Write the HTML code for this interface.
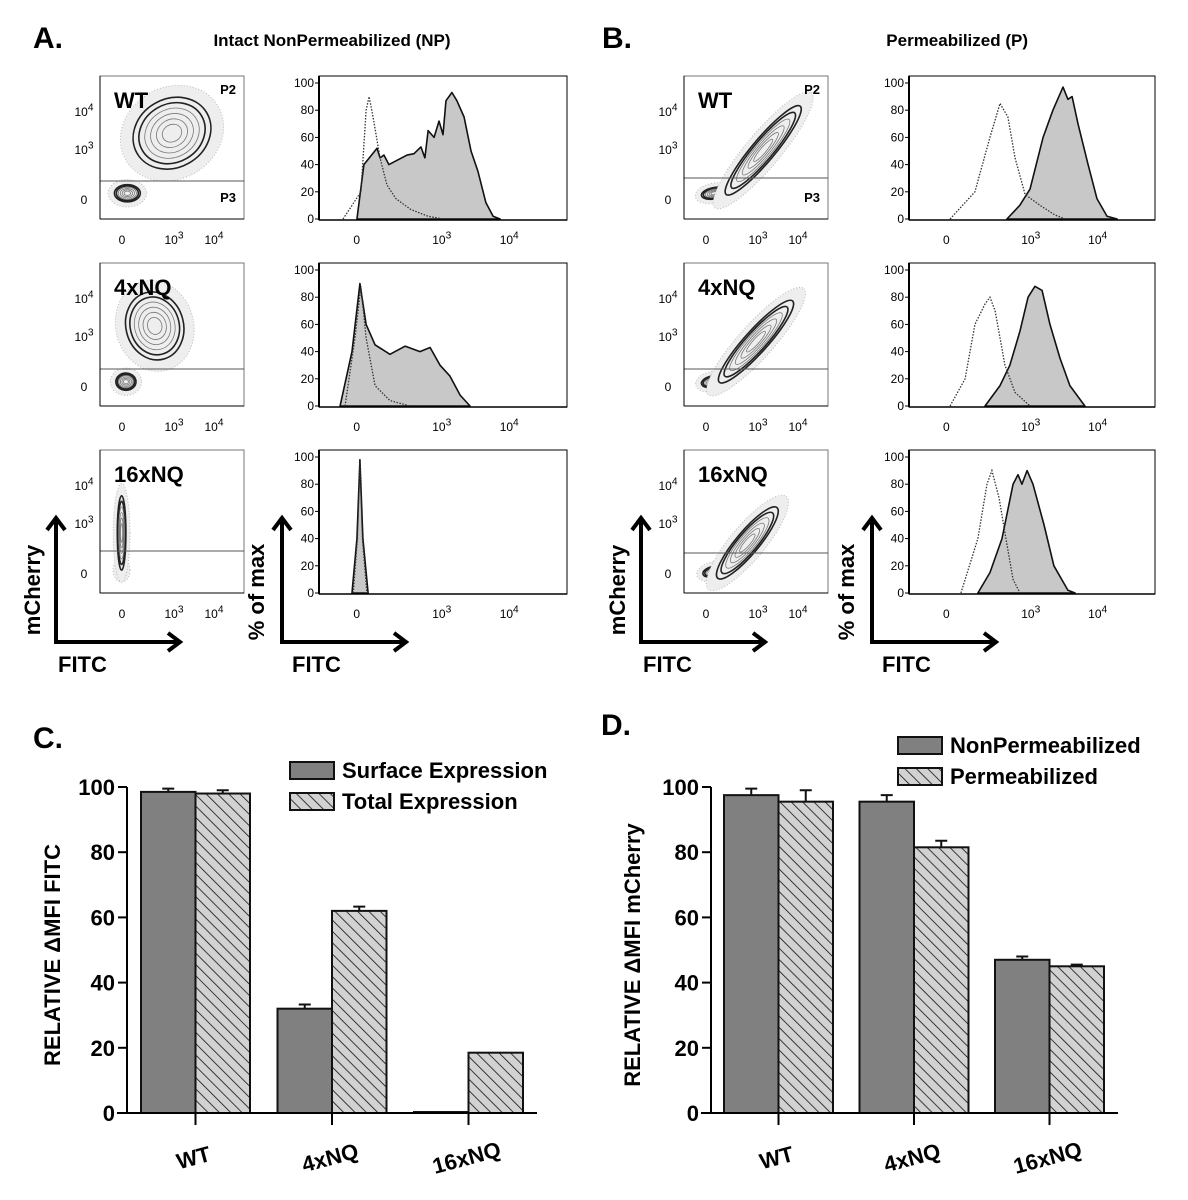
<!DOCTYPE html>
<html><head><meta charset="utf-8">
<style>
html,body{margin:0;padding:0;background:#fff;}
svg{display:block;font-family:"Liberation Sans",Arial,sans-serif;}
</style></head>
<body>
<svg id="fig" width="1188" height="1200" viewBox="0 0 1188 1200" xmlns="http://www.w3.org/2000/svg">
<defs>
<pattern id="hatch" patternUnits="userSpaceOnUse" width="8" height="8" patternTransform="rotate(-45)">
<rect width="8" height="8" fill="#d2d2d2"/>
<line x1="0" y1="0" x2="0" y2="8" stroke="#111" stroke-width="1.6"/>
</pattern>
</defs>
</svg>
<script>
// ---------- bar chart data ----------
const catC = ['WT','4xNQ','16xNQ'];
const surfaceC = [98.5, 32, 0.3];
const surfaceErrC = [1, 1.3, 0];
const totalC = [98, 62, 18.5];
const totalErrC = [1, 1.3, 0];
const catD = ['WT','4xNQ','16xNQ'];
const nonPermD = [97.5, 95.5, 47];
const nonPermErrD = [2, 2, 1];
const permD = [95.5, 81.5, 45];
const permErrD = [3.5, 2, 0.5];
const barTicks = [0,20,40,60,80,100];
const histTicks = [0,20,40,60,80,100];

// ---------- histogram data (x = % of plot width, y = % of max) ----------
const hA1sX = [15.3,18.1,23.4,24.6,26.2,28.2,35.5,38.3,41.1,42.7,44,46.4,48.4,50,51.2,53.6,55.6,58.5,61.3,64.1,67.3,70.2,73];
const hA1sY = [0,40,52,45,47,40,47,48,53,45,65,60,72,62,87,93,87,75,50,35,12,2,0];
const hA1dX = [9.7,16.9,19,20.2,21.8,24.6,27.4,31,37,44,50];
const hA1dY = [0,20,80,90,75,45,25,15,7,2,0];
const hA2sX = [8.5,13.3,16.5,19,22.6,28.6,34.7,40.7,44.8,48.8,52.8,56.9,60.9];
const hA2sY = [0,40,90,60,45,38,44,40,43,30,22,8,0];
const hA2dX = [10.5,14.5,16.9,19,22.6,28.6,36.7];
const hA2dY = [0,50,88,50,15,4,0];
const hA3sX = [13.3,15.3,16.5,17.7,19.8];
const hA3sY = [0,40,98,40,0];
const hA3dX = [13.8,15.5,16.5,17.5,19.3];
const hA3dY = [0,40,96,40,0];
const hB1sX = [39.8,45,49.2,54.5,58.5,62.6,64.6,66.3,68.7,72.8,76.4,80.5,84.6];
const hB1sY = [0,10,22,60,80,97,88,90,70,40,15,2,0];
const hB1dX = [16.7,26.8,32.9,37,40.2,43.1,47.2,53.3,59.3,63.4];
const hB1dY = [0,20,60,85,75,45,18,10,3,0];
const hB2sX = [30.9,37,41,45.1,48.4,51.2,54.1,57.3,61.4,65.4,71.5];
const hB2sY = [0,15,30,55,80,88,85,60,35,15,0];
const hB2dX = [16.7,22.8,26.8,30.9,32.9,35,39,43.1,49.2];
const hB2dY = [0,20,60,75,80,70,30,10,0];
const hB3sX = [28,32.9,37.8,42.3,44.3,45.9,48,50.4,54.9,58.9,64.6,67.5];
const hB3sY = [0,15,40,80,87,80,90,80,50,20,2,0];
const hB3dX = [21.1,28,31.7,33.7,36.6,39.4,42.3,45.1];
const hB3dY = [0,40,80,90,70,40,10,0];

// ---------- contour blobs [cx%, cy%, rx%, ry%, rotation] ----------
const cA1 = [[19,82,9,6,0],[50,40,28,24,-30]];
const cA2 = [[18,83,7,6,0],[38,44,20,24,-15]];
const cA3 = [[15,84,3,5,0],[15,58,3,26,0]];
const cB1 = [[21,82,9,4,-10],[55,52,40,8,-50]];
const cB2 = [[20,83,8,4,-10],[50,55,38,8,-48]];
const cB3 = [[22,85,9,4,-10],[44,65,32,8,-50]];

const NS = 'http://www.w3.org/2000/svg';
const svg = document.getElementById('fig');
function el(tag, attrs, parent){
  const e = document.createElementNS(NS, tag);
  for (const k in attrs) e.setAttribute(k, attrs[k]);
  (parent||svg).appendChild(e);
  return e;
}
function txt(str, x, y, size, weight, anchor, parent){
  const t = el('text', {x:x, y:y, 'font-size':size, 'font-weight':weight||'normal', 'text-anchor':anchor||'start', fill:'#000'}, parent);
  t.textContent = str;
  return t;
}
function sup(base, exp, x, y, size, parent){
  const t = el('text', {x:x, y:y, 'font-size':size, 'text-anchor':'middle', fill:'#000'}, parent);
  t.textContent = base;
  const s = document.createElementNS(NS,'tspan');
  s.setAttribute('dy', -size*0.45);
  s.setAttribute('font-size', size*0.85);
  s.textContent = exp;
  t.appendChild(s);
  return t;
}

// ---------- titles ----------
let t;
t = txt('A.', 33, 48, 30, 'bold');  
t = txt('Intact NonPermeabilized (NP)', 332, 46, 17, 'bold', 'middle');  
t = txt('B.', 602, 48, 30, 'bold');  
t = txt('Permeabilized (P)', 1028, 46, 17, 'bold', 'end');  
t = txt('C.', 33, 748, 30, 'bold');  
t = txt('D.', 601, 735, 30, 'bold');  

// ---------- contour plots ----------
const rowTops = [76, 263, 450];
const rowNames = ['WT','4xNQ','16xNQ'];
const contourSets = [[cA1,cA2,cA3],[cB1,cB2,cB3]];
const contourLeft = [100, 684];
const gates = [[105,106,101],[102,106,103]];
function contourPlot(left, top, blobs, label, gateY, showP, name){
  const W=144, H=143;
  const g = el('g', {});
  
  
  el('rect', {x:left, y:top, width:W, height:H, fill:'#fff', stroke:'#777', 'stroke-width':1}, g);
  blobs.forEach(b => {
    const cx = left + b[0]/100*W, cy = top + b[1]/100*H, rx = b[2]/100*W, ry = b[3]/100*H;
    const bg = el('g', {transform:`rotate(${b[4]} ${cx} ${cy})`}, g);
    
    
    el('ellipse', {cx:cx, cy:cy, rx:rx*1.25+3, ry:ry*1.25+3, fill:'#eee', stroke:'#bbb', 'stroke-width':1, 'stroke-dasharray':'1 2'}, bg);
    for (let i=0;i<6;i++){
      const f = 1 - i*0.15;
      el('ellipse', {cx:cx, cy:cy, rx:Math.max(rx*f,1), ry:Math.max(ry*f,1), fill:'none', stroke: i<2 ? '#222' : '#777', 'stroke-width': i<2 ? 1.6 : 0.8}, bg);
    }
  });
  const gl = el('line', {x1:left, y1:top+gateY, x2:left+W, y2:top+gateY, stroke:'#555', 'stroke-width':1}, g);
  
  
  let lt = txt(label, left+14, top+32, 22, 'bold', 'start', g);
  
  
  if (showP){
    let p2 = txt('P2', left+W-8, top+18, 13, 'bold', 'end', g);
    
    
    let p3 = txt('P3', left+W-8, top+126, 13, 'bold', 'end', g);
    
    
  }
  sup('10','4', left-16, top+40, 12, g);
  sup('10','3', left-16, top+78, 12, g);
  txt('0', left-16, top+128, 12, 'normal', 'middle', g);
  txt('0', left+22, top+168, 12, 'normal', 'middle', g);
  sup('10','3', left+74, top+168, 12, g);
  sup('10','4', left+114, top+168, 12, g);
  el('line', {x1:left, y1:top+H, x2:left+W, y2:top+H, stroke:'#000', 'stroke-width':1}, g);
  el('line', {x1:left, y1:top, x2:left, y2:top+H, stroke:'#000', 'stroke-width':1}, g);
}
for (let p=0;p<2;p++) for (let r=0;r<3;r++){
  contourPlot(contourLeft[p], rowTops[r], contourSets[p][r], rowNames[r], gates[p][r], r===0, (p===0?'np-':'p-')+rowNames[r].toLowerCase()+'-contour-plot');
}

// ---------- histograms ----------
const histLeft = [319, 909];
const histW = [248, 246];
const histSets = [
  [[hA1sX,hA1sY,hA1dX,hA1dY],[hA2sX,hA2sY,hA2dX,hA2dY],[hA3sX,hA3sY,hA3dX,hA3dY]],
  [[hB1sX,hB1sY,hB1dX,hB1dY],[hB2sX,hB2sY,hB2dX,hB2dY],[hB3sX,hB3sY,hB3dX,hB3dY]]
];
function histPlot(left, top, W, d, name){
  const H = 144;
  const xS = v => left + v/100*W;
  const yS = v => top + H - 1 - v/100*136;
  const g = el('g', {});
  
  
  el('rect', {x:left, y:top, width:W, height:H, fill:'#fff', stroke:'#000', 'stroke-width':1}, g);
  let ds = 'M'+xS(d[0][0])+','+yS(0);
  d[0].forEach((x,i)=>{ ds += ' L'+xS(x)+','+yS(d[1][i]); });
  ds += ' Z';
  const fill = el('path', {d:ds, fill:'#c8c8c8', stroke:'#111', 'stroke-width':1.6, 'stroke-linejoin':'round'}, g);
  
  
  let dd = '';
  d[2].forEach((x,i)=>{ dd += (i?' L':'M')+xS(x)+','+yS(d[3][i]); });
  const dot = el('path', {d:dd, fill:'none', stroke:'#333', 'stroke-width':1.3, 'stroke-dasharray':'1.5 1.5'}, g);
  
  
  el('line', {x1:left, y1:top, x2:left, y2:top+H, stroke:'#000', 'stroke-width':2}, g);
  el('line', {x1:left, y1:top+H, x2:left+W, y2:top+H, stroke:'#000', 'stroke-width':1.5}, g);
  histTicks.forEach(v=>{
    el('line', {x1:left-4, y1:yS(v), x2:left, y2:yS(v), stroke:'#000'}, g);
    txt(String(v), left-5, yS(v)+4, 12, 'normal', 'end', g);
  });
  txt('0', xS(15.2), top+H+24, 12, 'normal', 'middle', g);
  sup('10','3', xS(49.5), top+H+24, 12, g);
  sup('10','4', xS(76.7), top+H+24, 12, g);
}
for (let p=0;p<2;p++) for (let r=0;r<3;r++){
  histPlot(histLeft[p], rowTops[r], histW[p], histSets[p][r], (p===0?'np-':'p-')+rowNames[r].toLowerCase()+'-histogram');
}

// ---------- axis arrows ----------
const arrowX1 = [56, 641];
const arrowX2 = [282, 872];
for (let p=0;p<2;p++){
  const a1 = el('path', {d:`M${arrowX1[p]},519 L${arrowX1[p]},642 L${arrowX1[p]+122},642`, fill:'none', stroke:'#000', 'stroke-width':4}, svg);
  
  
  el('path', {d:`M${arrowX1[p]-9},530 L${arrowX1[p]},518 L${arrowX1[p]+9},530 M${arrowX1[p]+112},633 L${arrowX1[p]+124},642 L${arrowX1[p]+112},651`, fill:'none', stroke:'#000', 'stroke-width':4}, svg);
  const a2 = el('path', {d:`M${arrowX2[p]},519 L${arrowX2[p]},642 L${arrowX2[p]+122},642`, fill:'none', stroke:'#000', 'stroke-width':4}, svg);
  
  
  el('path', {d:`M${arrowX2[p]-9},530 L${arrowX2[p]},518 L${arrowX2[p]+9},530 M${arrowX2[p]+112},633 L${arrowX2[p]+124},642 L${arrowX2[p]+112},651`, fill:'none', stroke:'#000', 'stroke-width':4}, svg);
  let m = txt('mCherry', 0, 0, 22, 'bold', 'middle');
  m.setAttribute('transform', `translate(${arrowX1[p]-16},590) rotate(-90)`);
  
  
  let f1 = txt('FITC', arrowX1[p]+2, 672, 22, 'bold');
  
  
  let pm = txt('% of max', 0, 0, 22, 'bold', 'middle');
  pm.setAttribute('transform', `translate(${arrowX2[p]-18},592) rotate(-90)`);
  
  
  let f2 = txt('FITC', arrowX2[p]+10, 672, 22, 'bold');
  
  
}

// ---------- bar charts ----------
function barChart(cfg){
  const y0 = 1113, yTop = 787;
  const yS = v => y0 - v/100*(y0-yTop);
  const g = el('g', {});
  
  
  cfg.cats.forEach((c,i)=>{
    const gx = cfg.first + i*cfg.pitch;
    [[cfg.s1,cfg.e1,'#808080',cfg.n1],[cfg.s2,cfg.e2,'url(#hatch)',cfg.n2]].forEach((s,j)=>{
      const x = gx + j*cfg.bw;
      const v = s[0][i];
      const r = el('rect', {x:x, y:yS(v), width:cfg.bw, height:Math.max(y0-yS(v),0.5), fill:s[2], stroke:'#111', 'stroke-width':2}, g);
      
      
      const e = s[1][i];
      if (e>0){
        const eb = el('path', {d:`M${x+cfg.bw/2},${yS(v)} L${x+cfg.bw/2},${yS(v+e)} M${x+cfg.bw/2-6},${yS(v+e)} L${x+cfg.bw/2+6},${yS(v+e)}`, stroke:'#111', 'stroke-width':2, fill:'none'}, g);
        
        
      }
    });
    const cx = gx + cfg.bw;
    el('line', {x1:cx, y1:y0, x2:cx, y2:y0+12, stroke:'#000', 'stroke-width':2}, g);
    const lab = txt(c, 0, 0, 22, 'bold', 'middle', g);
    lab.setAttribute('transform', `translate(${cx},${y0+52}) rotate(-15)`);
    
    
  });
  el('line', {x1:cfg.axis, y1:yTop, x2:cfg.axis, y2:y0, stroke:'#000', 'stroke-width':2}, g);
  el('line', {x1:cfg.axis-10, y1:y0, x2:cfg.xEnd, y2:y0, stroke:'#000', 'stroke-width':2}, g);
  barTicks.forEach(v=>{
    el('line', {x1:cfg.axis-9, y1:yS(v), x2:cfg.axis, y2:yS(v), stroke:'#000', 'stroke-width':2}, g);
    const tl = txt(String(v), cfg.axis-12, yS(v)+8, 22, 'bold', 'end', g);
    
    
  });
  const yt = txt(cfg.ytitle, 0, 0, 22, 'bold', 'middle', g);
  yt.setAttribute('transform', `translate(${cfg.ytx},${(y0+yTop)/2+5}) rotate(-90)`);
  
  
  cfg.legend.forEach((L,k)=>{
    const lg = el('g', {}, g);
    
    
    el('rect', {x:cfg.lx, y:cfg.ly+k*31, width:44, height:17, fill:k?'url(#hatch)':'#808080', stroke:'#111', 'stroke-width':2}, lg);
    txt(L, cfg.lx+52, cfg.ly+k*31+16, 22, 'bold', 'start', lg);
  });
}
barChart({name:'surface-total-bar-chart', cats:catC, s1:surfaceC, e1:surfaceErrC, s2:totalC, e2:totalErrC, n1:'surface', n2:'total',
  first:141, pitch:136.5, bw:54.5, axis:127, xEnd:537, ytitle:'RELATIVE \u0394MFI FITC', ytx:60,
  legend:['Surface Expression','Total Expression'], lx:290, ly:762});
barChart({name:'nonperm-perm-bar-chart', cats:catD, s1:nonPermD, e1:nonPermErrD, s2:permD, e2:permErrD, n1:'nonpermeabilized', n2:'permeabilized',
  first:724, pitch:135.5, bw:54.5, axis:711, xEnd:1118, ytitle:'RELATIVE \u0394MFI mCherry', ytx:640,
  legend:['NonPermeabilized','Permeabilized'], lx:898, ly:737});
</script>
</body></html>
